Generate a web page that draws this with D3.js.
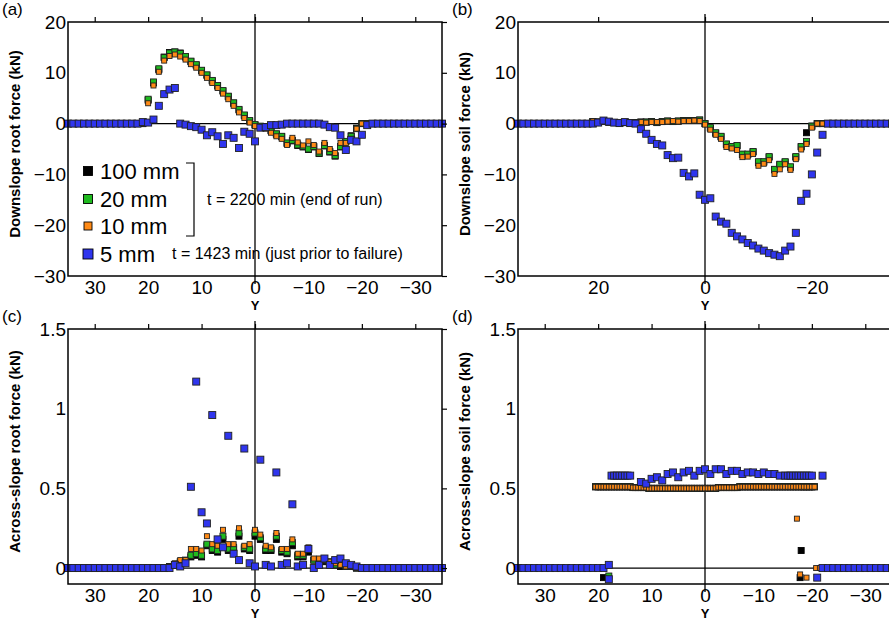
<!doctype html>
<html lang="en">
<head>
<meta charset="utf-8" />
<title>Root and soil forces</title>
<style>
 body { margin: 0; background: #fff; font-family: "Liberation Sans", Arial, sans-serif; }
</style>
</head>
<body>
<svg id="chart" width="889" height="620"></svg>
<script src="https://d3js.org/d3.v7.min.js"></script>
<script>
// ---- data (Y position, force) ----
// zero-force stretches outside the loaded zone
var zeroLeft = d3.range(35, 20, -1);     // 35 .. 21
var zeroRight = d3.range(-22, -36, -1);  // -22 .. -35

// (a) downslope root force, kN, at Y = 20 .. -21
var aX = d3.range(20, -22, -1);
var a20 = [4.8, 8.2, 10.8, 13, 13.9, 14.1, 13.8, 13.2, 12.3, 11.6, 10.5, 9.6, 8.5, 7.5, 6.5, 5.4, 4.1, 2.8, 1.7, 0.6,
  -0.2, -0.5, -0.7, -1.3, -2, -2.5, -3.8, -3.3, -4.2, -4.5, -5, -4.5, -5.8, -4.3, -5.5, -6.3, -4.5, -3.5, -2.5, -1, 0, 0];
var a100 = [4.6, 8, 10.6, 13.1, 14, 14.1, 13.9, 13.1, 12.2, 11.5, 10.4, 9.5, 8.4, 7.4, 6.4, 5.3, 4, 2.7, 1.6, 0.5,
  -0.3, -0.6, -0.8, -1.4, -2.1, -2.6, -3.9, -3.4, -4.3, -4.6, -5.1, -4.6, -5.9, -4.4, -5.6, -6.4, -4.6, -3.6, -2.4, -0.9, 0, 0];
var a10 = [4, 7.5, 10.2, 12.4, 13.3, 13.6, 13.2, 12.6, 11.7, 11, 10, 9, 8, 7, 5.9, 4.8, 3.5, 2.2, 1.1, 0.2,
  -0.5, -0.7, -1, -1.8, -2.5, -3, -4.2, -2.8, -3.7, -4.3, -3.5, -4.2, -5.5, -3.8, -5, -5.8, -3.8, -3.8, -3, -1, 0, 0];
var aX5 = d3.range(21, -23, -1);
var a5 = [0.3, 0.2, 0.8, 3.5, 5.8, 6.7, 7, 0, -0.2, -0.5, -0.7, -1.2, -2.3, -1.7, -2.5, -4, -2.3, -2.8, -4.8, -1.6,
  -2, -3.5, -0.8, -0.7, -0.3, -0.3, -0.2, 0, 0, 0, 0, 0, 0, 0, -0.2, -0.7, -0.8, -2.3, -5.2, -3.2, -3.5, -2.2, -0.3, 0];

// (b) downslope soil force, kN, at Y = 21 .. -21
var bX = d3.range(21, -22, -1);
var b20 = [0.4, 0.3, 0.5, 0.3, 0.2, 0.1, 0.2, 0.1, 0.2, 0.3, 0.3, 0.4, 0.2, 0.4, 0.5, 0.4, 0.5, 0.6, 0.6, 0.6, 0.7,
  0, -0.8, -1.8, -2.5, -4, -4.5, -4.3, -6, -6, -5.5, -7.5, -7.5, -6.5, -9, -8, -7.5, -8.5, -6.5, -4.5, -3.5, -0.5, 0];
var b100 = [0.4, 0.3, 0.5, 0.3, 0.2, 0.1, 0.2, 0.1, 0.2, 0.3, 0.3, 0.4, 0.2, 0.4, 0.5, 0.4, 0.5, 0.6, 0.6, 0.6, 0.7,
  0, -0.9, -1.9, -2.6, -4.1, -4.6, -4.4, -6.1, -6.1, -5.6, -7.7, -7.6, -6.6, -9.1, -8.1, -7.6, -8.6, -6.6, -4.6, -1.8, -0.5, 0];
var b10 = [0.5, 0.4, 0.3, 0.2, 0.1, 0.1, 0.1, 0.2, 0.2, 0.3, 0.2, 0.3, 0.3, 0.3, 0.4, 0.5, 0.4, 0.5, 0.5, 0.6, 0.5,
  -0.2, -1.2, -2.2, -3, -4.6, -4.9, -5.2, -6.6, -6.5, -6, -8.3, -7.9, -7.2, -9.9, -9, -8, -9.1, -7, -5.1, -4, -0.8, 0];
var bX5 = d3.range(20, -23, -1);
var b5 = [0.2, 0.6, 0.4, 0.2, 0.1, 0.3, 0.1, 0, -1.1, -2, -3.2, -4, -4.3, -6.2, -6.8, -6.7, -9.7, -10.4, -9.8, -14, -15,
  -14.7, -18.3, -19.3, -19.7, -21.5, -22.2, -22.8, -23.5, -24, -24.6, -25, -25.5, -25.8, -26.1, -25, -24.2, -21.5,
  -15.2, -13.8, -10, -5.7, -2.2];

// (c) across-slope root force, kN, at Y = 16 .. -18
var cX = d3.range(16, -19, -1);
var c20 = [0.01, 0.02, 0.04, 0.05, 0.08, 0.09, 0.08, 0.15, 0.12, 0.11, 0.2, 0.12, 0.13, 0.22, 0.13, 0.12, 0.22, 0.19,
  0.12, 0.12, 0.2, 0.11, 0.1, 0.16, 0.08, 0.08, 0.12, 0.05, 0.05, 0.05, 0.04, 0.02, 0.02, 0.01, 0.01];
var c100 = [0.01, 0.02, 0.03, 0.04, 0.07, 0.08, 0.07, 0.14, 0.11, 0.1, 0.18, 0.11, 0.12, 0.2, 0.12, 0.11, 0.2, 0.18,
  0.11, 0.11, 0.18, 0.1, 0.09, 0.14, 0.07, 0.07, 0.1, 0.05, 0.04, 0.04, 0.03, 0.02, 0.01, 0.01, 0.01];
var c10 = [0.01, 0.03, 0.05, 0.05, 0.12, 0.12, 0.11, 0.2, 0.15, 0.14, 0.24, 0.15, 0.15, 0.25, 0.14, 0.15, 0.24, 0.21,
  0.14, 0.13, 0.22, 0.12, 0.12, 0.18, 0.09, 0.09, 0.13, 0.06, 0.06, 0.05, 0.04, 0.03, 0.02, 0.01, 0.01];
var cX5 = d3.range(15, -20, -1);
var c5 = [0.02, 0.01, 0.03, 0.51, 1.17, 0.35, 0.28, 0.96, 0.18, 0.13, 0.83, 0.09, 0.05, 0.75, 0.03, 0.01, 0.68, 0.02,
  0.01, 0.6, 0.02, 0.03, 0.4, 0.01, 0.02, 0.12, 0, 0.02, 0.06, 0.02, 0.05, 0.06, 0.03, 0.02, 0.01];

// (d) across-slope soil force, kN
var dX = d3.range(20.5, -21, -0.5);
var dRow = [0.51, 0.51, 0.51, 0.51, 0.51, 0.51, 0.51, 0.51, 0.51, 0.51, 0.51, 0.51, 0.51, 0.51, 0.505, 0.505, 0.505,
  0.505, 0.505, 0.505, 0.5, 0.5, 0.5, 0.5, 0.5, 0.5, 0.5, 0.5, 0.5, 0.5, 0.5, 0.5, 0.5, 0.5, 0.5, 0.5, 0.5, 0.5, 0.5,
  0.5, 0.5, 0.5, 0.5, 0.5, 0.5, 0.5, 0.505, 0.505, 0.505, 0.505, 0.505, 0.505, 0.505, 0.505, 0.51, 0.51, 0.51, 0.51,
  0.51, 0.51, 0.51, 0.51, 0.51, 0.51, 0.51, 0.51, 0.51, 0.51, 0.51, 0.51, 0.51, 0.51, 0.51, 0.51, 0.51, 0.51, 0.51, 0.51,
  0.51, 0.51, 0.51, 0.51, 0.51];
var dX5 = [17.5, 17, 16.5, 16, 15.5, 15, 14.5, 14, 12, 11, 10, 9, 8, 7, 6, 5, 4, 3, 2, 1, 0, -1, -2, -3, -4, -5, -6, -7,
  -8, -9, -10, -11, -12, -13, -14, -15, -15.5, -16, -16.5, -17, -17.5, -18, -18.5, -19, -19.5, -20, -22];
var d5 = [0.58, 0.58, 0.58, 0.58, 0.58, 0.58, 0.58, 0.58, 0.54, 0.53, 0.56, 0.57, 0.55, 0.59, 0.6, 0.57, 0.6, 0.61, 0.58,
  0.61, 0.62, 0.59, 0.62, 0.62, 0.59, 0.61, 0.61, 0.59, 0.6, 0.6, 0.59, 0.6, 0.59, 0.59, 0.58, 0.58, 0.58, 0.58, 0.58,
  0.58, 0.58, 0.58, 0.58, 0.58, 0.58, 0.58, 0.58];
var dOddX = { k: [19, -18, -17.8], g: [18, -18.5, -19.5], o: [-17.2, -17.8, -19, -20.8, -21.5], b: [18, 18, -21] };
var dOddY = { k: [-0.06, 0.11, -0.06], g: [-0.05, 0.51, 0.51], o: [0.31, -0.04, -0.06, 0, 0], b: [-0.07, 0.02, -0.06] };
var dZeroLeft = d3.range(35, 18, -1);

var xTicksWide = [30, 20, 10, 0, -10, -20, -30];
var xTicksB = [20, 0, -20];

// ---- helpers ----
function pts(xs, ys) { return xs.map(function (x, i) { return [x, ys[i]]; }); }
function zeros(xs) { return xs.map(function (x) { return [x, 0]; }); }

var styles = {
  k: { fill: "#000", size: 6 },
  g: { fill: "#1fba1f", size: 6 },
  o: { fill: "#ff8a16", size: 5 },
  b: { fill: "#2f35ee", size: 7 }
};

var svg = d3.select("#chart");

function panel(opt) {
  var x = d3.scaleLinear().domain([35, -35]).range([opt.left, opt.left + 374]);
  var y = d3.scaleLinear().domain(opt.yDomain).range([opt.top + opt.h, opt.top]);
  var g = svg.append("g");

  // zero lines
  g.append("line").attr("x1", x(35)).attr("x2", Math.min(x(-35), 889))
    .attr("y1", y(0)).attr("y2", y(0)).attr("stroke", "#000").attr("stroke-width", 1.3);
  g.append("line").attr("x1", x(0)).attr("x2", x(0))
    .attr("y1", opt.top - 8).attr("y2", opt.top + opt.h + 8).attr("stroke", "#000").attr("stroke-width", 1.3);

  // points
  ["k", "g", "o", "b"].forEach(function (s) {
    var st = styles[s];
    g.append("g").selectAll("rect").data(opt.series[s]).join("rect")
      .attr("x", function (d) { return x(d[0]) - st.size / 2; })
      .attr("y", function (d) { return y(d[1]) - st.size / 2; })
      .attr("width", st.size).attr("height", st.size)
      .attr("fill", st.fill).attr("stroke", s === "k" ? "#000" : "#222").attr("stroke-width", 0.9);
  });

  // frame
  g.append("rect").attr("x", opt.left).attr("y", opt.top).attr("width", 374).attr("height", opt.h)
    .attr("fill", "none").attr("stroke", "#000").attr("stroke-width", 1.5);

  var ax = g.append("g").attr("transform", "translate(0," + (opt.top + opt.h) + ")")
    .call(d3.axisBottom(x).tickValues(opt.xTicks).tickSize(0).tickPadding(5).tickFormat(d3.format("d")));
  ax.select(".domain").remove();
  var axT = g.append("g").attr("transform", "translate(0," + opt.top + ")")
    .call(d3.axisTop(x).tickValues(opt.xTicks).tickSize(5).tickFormat(""));
  axT.select(".domain").remove();
  var ay = g.append("g").attr("transform", "translate(" + opt.left + ",0)")
    .call(d3.axisLeft(y).tickValues(opt.yTicks).tickSize(0).tickPadding(2).tickFormat(opt.yFmt));
  ay.select(".domain").remove();
  if (opt.rightAxis) {
    var ar = g.append("g").attr("transform", "translate(" + (opt.left + 374) + ",0)")
      .call(d3.axisRight(y).tickValues(opt.yTicks).tickSize(5).tickFormat(""));
    ar.select(".domain").remove();
  }
  g.selectAll(".tick text").attr("fill", "#000").style("font-size", "19px")
    .style("font-family", "'Liberation Sans', Arial, sans-serif");
  g.selectAll(".tick line").attr("stroke", "#000").attr("stroke-width", 1.2);

  g.append("text").attr("x", opt.left + 187).attr("y", opt.top + opt.h + 34)
    .attr("text-anchor", "middle").attr("font-weight", "bold").attr("font-size", 13).text("Y");
  g.append("text").attr("transform", "translate(" + (opt.left - 48) + "," + (opt.top + opt.h / 2 - 5) + ") rotate(-90)")
    .attr("text-anchor", "middle").attr("font-weight", "bold").attr("font-size", 15).text(opt.yLabel);
  g.append("text").attr("x", opt.left - 66).attr("y", opt.top - 7)
    .attr("font-size", 17).text(opt.tag);
  return g;
}

var fmtA = d3.format("d");
var fmtC = function (d) { return String(d); };

var ga = panel({
  left: 68, top: 22, h: 254, yDomain: [-30, 20], yTicks: [-30, -20, -10, 0, 10, 20], yFmt: fmtA,
  xTicks: xTicksWide, rightAxis: true, tag: "(a)", yLabel: "Downslope root force (kN)",
  series: {
    k: zeros(zeroLeft).concat(pts(aX, a100), zeros(zeroRight)),
    g: zeros(zeroLeft).concat(pts(aX, a20), zeros(zeroRight)),
    o: zeros(zeroLeft).concat(pts(aX, a10), zeros(zeroRight)),
    b: zeros(d3.range(35, 21, -1)).concat(pts(aX5, a5), zeros(d3.range(-23, -36, -1)))
  }
});

panel({
  left: 518, top: 22, h: 254, yDomain: [-30, 20], yTicks: [-30, -20, -10, 0, 10, 20], yFmt: fmtA,
  xTicks: xTicksB, rightAxis: false, tag: "(b)", yLabel: "Downslope soil force (kN)",
  series: {
    k: zeros(d3.range(35, 21, -1)).concat(pts(bX, b100), zeros(zeroRight)),
    g: zeros(d3.range(35, 21, -1)).concat(pts(bX, b20), zeros(zeroRight)),
    o: zeros(d3.range(35, 21, -1)).concat(pts(bX, b10), zeros(zeroRight)),
    b: zeros(d3.range(35, 20, -1)).concat(pts(bX5, b5), zeros(d3.range(-23, -36, -1)))
  }
});

panel({
  left: 68, top: 329, h: 255, yDomain: [-0.1, 1.5], yTicks: [0, 0.5, 1, 1.5], yFmt: fmtC,
  xTicks: xTicksWide, rightAxis: true, tag: "(c)", yLabel: "Across-slope root force (kN)",
  series: {
    k: zeros(d3.range(35, 16, -1)).concat(pts(cX, c100), zeros(d3.range(-19, -36, -1))),
    g: zeros(d3.range(35, 16, -1)).concat(pts(cX, c20), zeros(d3.range(-19, -36, -1))),
    o: zeros(d3.range(35, 16, -1)).concat(pts(cX, c10), zeros(d3.range(-19, -36, -1))),
    b: zeros(d3.range(35, 15, -1)).concat(pts(cX5, c5), zeros(d3.range(-20, -36, -1)))
  }
});

panel({
  left: 518, top: 329, h: 255, yDomain: [-0.1, 1.5], yTicks: [0, 0.5, 1, 1.5], yFmt: fmtC,
  xTicks: xTicksWide, rightAxis: false, tag: "(d)", yLabel: "Across-slope soil force (kN)",
  series: {
    k: pts(dX, dRow).concat(pts(dOddX.k, dOddY.k)),
    g: pts(dX, dRow).concat(pts(dOddX.g, dOddY.g)),
    o: pts(dX, dRow).concat(pts(dOddX.o, dOddY.o)),
    b: zeros(dZeroLeft).concat(pts(dX5, d5), pts(dOddX.b, dOddY.b), zeros(d3.range(-22, -36, -1)))
  }
});

// legend in panel (a)
var legend = [
  { key: "k", label: "100 mm", y: 171 },
  { key: "g", label: "20 mm", y: 199 },
  { key: "o", label: "10 mm", y: 226 },
  { key: "b", label: "5 mm", y: 254 }
];
var lg = ga.append("g");
legend.forEach(function (d) {
  var st = styles[d.key];
  var s = st.size + 3;
  lg.append("rect").attr("x", 88 - s / 2).attr("y", d.y - s / 2).attr("width", s).attr("height", s)
    .attr("fill", st.fill).attr("stroke", "#000").attr("stroke-width", 0.9);
  lg.append("text").attr("x", 100).attr("y", d.y + 8).attr("font-size", 22).text(d.label);
});
lg.append("path").attr("d", "M186,163 H194 V236 H186").attr("fill", "none").attr("stroke", "#000").attr("stroke-width", 1.2);
lg.append("text").attr("x", 207).attr("y", 205).attr("font-size", 16).text("t = 2200 min (end of run)");
lg.append("text").attr("x", 172).attr("y", 259).attr("font-size", 16).text("t = 1423 min (just prior to failure)");
</script>
</body>
</html>
